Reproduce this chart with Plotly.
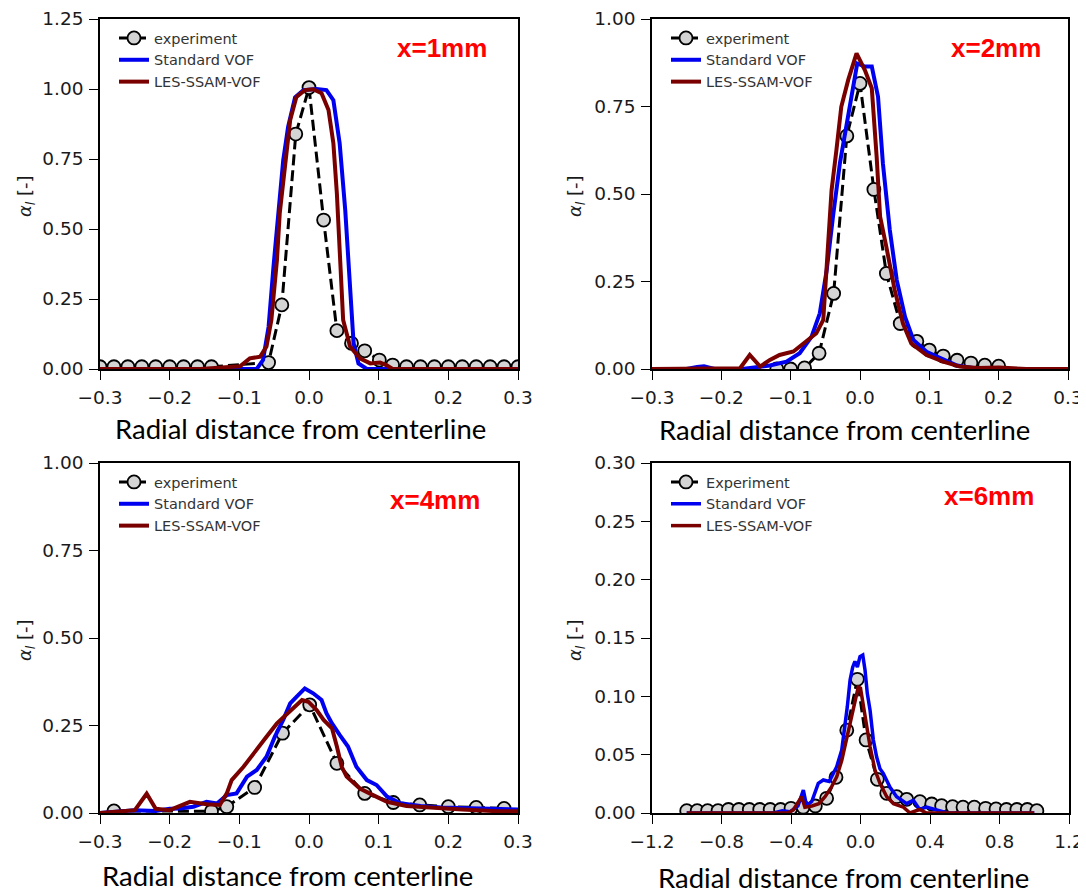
import plotly.graph_objects as go

W, H = 1086, 893          # size of the reference picture
OFF = 8                   # the page body adds an 8 px margin around the figure
FW, FH = W - OFF, H - OFF # figure size so that it ends exactly at the window edge

# ---------------- Panel 1 : x = 1 mm ----------------
p1_exp_x = [-0.30, -0.28, -0.26, -0.24, -0.22, -0.20, -0.18, -0.16, -0.14,
            -0.058, -0.039, -0.019, 0.0, 0.021, 0.040, 0.061, 0.080, 0.101, 0.120,
            0.14, 0.16, 0.18, 0.20, 0.22, 0.24, 0.26, 0.28, 0.30]
p1_exp_y = [0.008, 0.008, 0.008, 0.008, 0.008, 0.008, 0.008, 0.008, 0.008,
            0.023, 0.229, 0.839, 1.005, 0.532, 0.137, 0.092, 0.065, 0.032, 0.014,
            0.008, 0.008, 0.008, 0.008, 0.008, 0.008, 0.008, 0.008, 0.008]
p1_std_x = [-0.30, -0.12, -0.075, -0.066, -0.058, -0.051, -0.044, -0.037, -0.030, -0.020,
            -0.008, 0.011, 0.025, 0.035, 0.044, 0.052, 0.058, 0.064, 0.071, 0.083, 0.30]
p1_std_y = [0.0, 0.0, 0.0, 0.032, 0.151, 0.365, 0.568, 0.746, 0.865, 0.970,
            0.996, 1.0, 0.996, 0.96, 0.806, 0.568, 0.33, 0.092, 0.02, 0.0, 0.0]
p1_les_x = [-0.30, -0.156, -0.099, -0.085, -0.070, -0.061, -0.054, -0.046, -0.042, -0.034,
            -0.027, -0.018, -0.006, 0.006, 0.018, 0.028, 0.035, 0.040, 0.044, 0.049,
            0.059, 0.073, 0.088, 0.102, 0.111, 0.120, 0.30]
p1_les_y = [0.0, 0.0, 0.01, 0.038, 0.044, 0.08, 0.175, 0.389, 0.556, 0.746,
            0.889, 0.972, 0.996, 0.999, 0.985, 0.925, 0.806, 0.627, 0.389, 0.175,
            0.08, 0.038, 0.02, 0.023, 0.014, 0.0, 0.0]

# ---------------- Panel 2 : x = 2 mm ----------------
p2_exp_x = [-0.12, -0.10, -0.08, -0.059, -0.038, -0.019, 0.0, 0.02, 0.038, 0.058,
            0.082, 0.10, 0.12, 0.14, 0.16, 0.18, 0.20]
p2_exp_y = [0.0, 0.0, 0.003, 0.045, 0.216, 0.666, 0.816, 0.513, 0.273, 0.13,
            0.079, 0.054, 0.037, 0.025, 0.017, 0.011, 0.008]
p2_std_x = [-0.30, -0.25, -0.235, -0.225, -0.21, -0.17, -0.13, -0.106, -0.087, -0.070,
            -0.058, -0.048, -0.039, -0.029, -0.019, -0.010, -0.004, 0.007, 0.017, 0.026,
            0.033, 0.043, 0.053, 0.065, 0.077, 0.096, 0.115, 0.14, 0.163, 0.20, 0.30]
p2_std_y = [0.0, 0.0, 0.006, 0.008, 0.0, 0.0, 0.01, 0.021, 0.045, 0.092,
            0.159, 0.283, 0.435, 0.588, 0.702, 0.807, 0.873, 0.864, 0.864, 0.778,
            0.588, 0.397, 0.254, 0.149, 0.083, 0.049, 0.031, 0.01, 0.003, 0.0, 0.0]
p2_les_x = [-0.30, -0.20, -0.173, -0.159, -0.144, -0.13, -0.116, -0.096, -0.077, -0.063,
            -0.053, -0.046, -0.041, -0.034, -0.027, -0.017, -0.005, 0.007, 0.017, 0.024,
            0.029, 0.038, 0.05, 0.062, 0.074, 0.096, 0.12, 0.144, 0.17, 0.20, 0.22, 0.24, 0.30]
p2_les_y = [0.0, 0.0, 0.002, 0.04, 0.007, 0.026, 0.04, 0.05, 0.078, 0.102,
            0.14, 0.378, 0.511, 0.626, 0.749, 0.826, 0.902, 0.854, 0.802, 0.607,
            0.435, 0.349, 0.226, 0.13, 0.073, 0.04, 0.021, 0.007, 0.003, 0.004, 0.003, 0.0, 0.0]

# ---------------- Panel 3 : x = 4 mm ----------------
p3_exp_x = [-0.28, -0.14, -0.118, -0.078, -0.038, 0.001, 0.04, 0.08, 0.121, 0.159,
            0.20, 0.24, 0.28]
p3_exp_y = [0.006, 0.005, 0.018, 0.073, 0.228, 0.309, 0.142, 0.056, 0.03, 0.023,
            0.018, 0.016, 0.013]
p3_std_x = [-0.30, -0.28, -0.25, -0.22, -0.20, -0.185, -0.166, -0.147, -0.132, -0.118,
            -0.104, -0.089, -0.075, -0.061, -0.049, -0.037, -0.027, -0.018, -0.006, 0.006,
            0.018, 0.025, 0.033, 0.044, 0.056, 0.068, 0.083, 0.097, 0.112, 0.131,
            0.16, 0.19, 0.24, 0.30]
p3_std_y = [0.0, 0.003, 0.008, 0.006, 0.012, 0.013, 0.018, 0.032, 0.027, 0.051,
            0.056, 0.104, 0.123, 0.161, 0.218, 0.266, 0.313, 0.332, 0.356, 0.342,
            0.323, 0.285, 0.256, 0.223, 0.19, 0.132, 0.094, 0.08, 0.047, 0.028,
            0.02, 0.016, 0.012, 0.01]
p3_les_x = [-0.30, -0.27, -0.25, -0.233, -0.22, -0.20, -0.185, -0.171, -0.147, -0.128,
            -0.118, -0.111, -0.094, -0.080, -0.061, -0.046, -0.030, -0.010, -0.001, 0.011,
            0.021, 0.033, 0.040, 0.047, 0.054, 0.073, 0.092, 0.112, 0.14, 0.18,
            0.22, 0.27, 0.30]
p3_les_y = [0.0, 0.005, 0.008, 0.055, 0.012, 0.008, 0.02, 0.032, 0.025, 0.023,
            0.056, 0.094, 0.132, 0.17, 0.218, 0.256, 0.285, 0.323, 0.318, 0.294,
            0.266, 0.242, 0.19, 0.132, 0.104, 0.07, 0.051, 0.032, 0.02, 0.014,
            0.01, 0.005, 0.005]

# ---------------- Panel 4 : x = 6 mm ----------------
p4_exp_x = [-1.0, -0.94, -0.88, -0.82, -0.76, -0.70, -0.64, -0.58, -0.52, -0.46,
            -0.40, -0.33, -0.26, -0.195, -0.141, -0.079, -0.018, 0.032, 0.097, 0.151,
            0.208, 0.266, 0.342, 0.41, 0.467, 0.53, 0.59, 0.655, 0.72, 0.78,
            0.84, 0.90, 0.96, 1.015]
p4_exp_y = [0.002, 0.002, 0.002, 0.002, 0.003, 0.003, 0.003, 0.003, 0.003, 0.003,
            0.004, 0.005, 0.006, 0.0126, 0.0306, 0.071, 0.1146, 0.0626, 0.0289, 0.0169,
            0.014, 0.0117, 0.0097, 0.0077, 0.0063, 0.0054, 0.005, 0.005, 0.004, 0.0035,
            0.003, 0.003, 0.003, 0.002]
p4_std_x = [-1.0, -0.50, -0.45, -0.406, -0.36, -0.329, -0.31, -0.28, -0.243, -0.214,
            -0.18, -0.137, -0.108, -0.089, -0.076, -0.06, -0.045, -0.032, -0.018, -0.003,
            0.013, 0.026, 0.039, 0.055, 0.074, 0.093, 0.112, 0.131, 0.151, 0.17,
            0.208, 0.266, 0.304, 0.34, 0.38, 0.46, 0.50, 1.0]
p4_std_y = [0.0, 0.0, 0.002, 0.001, 0.006, 0.0197, 0.006, 0.01, 0.0254, 0.0283,
            0.027, 0.0397, 0.054, 0.074, 0.091, 0.114, 0.125, 0.13, 0.125, 0.134,
            0.1354, 0.1226, 0.1026, 0.088, 0.0626, 0.048, 0.038, 0.034, 0.028, 0.022,
            0.014, 0.008, 0.011, 0.003, 0.005, 0.002, 0.0, 0.0]
p4_les_x = [-1.0, -0.42, -0.387, -0.339, -0.32, -0.28, -0.24, -0.204, -0.166, -0.137,
            -0.108, -0.079, -0.051, -0.032, -0.013, 0.0, 0.016, 0.036, 0.055, 0.083,
            0.112, 0.151, 0.19, 0.247, 0.285, 0.34, 0.38, 0.42, 1.0]
p4_les_y = [0.0, 0.0, 0.0026, 0.014, 0.005, 0.006, 0.008, 0.014, 0.0226, 0.031,
            0.045, 0.065, 0.0826, 0.097, 0.108, 0.107, 0.091, 0.074, 0.057, 0.037,
            0.0254, 0.014, 0.008, 0.005, 0.0, 0.003, 0.0, 0.0, 0.0]

panel_labels = ["x=1mm", "x=2mm", "x=4mm", "x=6mm"]
exp_names = ["experiment", "experiment", "experiment", "Experiment"]
std_name = "Standard VOF"
les_name = "LES-SSAM-VOF"
x_title = "Radial distance from centerline"
y_title = "<i>α<sub>l</sub></i> [-]"

x_ranges = [[-0.3, 0.3], [-0.3, 0.3], [-0.3, 0.3], [-1.2, 1.2]]
x_dticks = [0.1, 0.1, 0.1, 0.4]
y_ranges = [[0, 1.25], [0, 1.0], [0, 1.0], [0, 0.30]]
y_dticks = [0.25, 0.25, 0.25, 0.05]

# ---------------- layout geometry (window pixels) ----------------
def px(x):
    return (x - OFF) / FW

def py(y):
    return 1 - (y - OFF) / FH

boxes = [  # left, right, top, bottom in window pixels
    (100, 518, 19, 369),
    (652, 1068, 19, 369),
    (100, 518, 463, 813),
    (652, 1069, 463, 813),
]

data = [
    (p1_exp_x, p1_exp_y, p1_std_x, p1_std_y, p1_les_x, p1_les_y),
    (p2_exp_x, p2_exp_y, p2_std_x, p2_std_y, p2_les_x, p2_les_y),
    (p3_exp_x, p3_exp_y, p3_std_x, p3_std_y, p3_les_x, p3_les_y),
    (p4_exp_x, p4_exp_y, p4_std_x, p4_std_y, p4_les_x, p4_les_y),
]

BLUE = "#0000f0"
DARKRED = "#7a0000"
TICKFONT = dict(family="DejaVu Sans", size=18.5, color="#1a1a1a")
LEGFONT = dict(family="DejaVu Sans", size=14.5, color="#333333")

fig = go.Figure()
layout = dict(
    width=FW, height=FH,
    margin=dict(l=0, r=0, t=0, b=0, pad=0, autoexpand=False),
    paper_bgcolor="white", plot_bgcolor="white",
    showlegend=True,
    annotations=[],
)

for i in range(4):
    n = "" if i == 0 else str(i + 1)
    xa, ya = "x" + n, "y" + n
    leg = "legend" if i == 0 else "legend" + str(i + 1)
    ex, ey, sx, sy, lx, ly = data[i]
    lw = 4 if i < 3 else 3.5
    fig.add_trace(go.Scatter(
        x=ex, y=ey, mode="lines+markers", name=exp_names[i],
        line=dict(color="black", width=3, dash="11px,5px"),
        marker=dict(symbol="circle", size=13, color="#d4d4d4",
                    line=dict(color="black", width=1.8)),
        xaxis=xa, yaxis=ya, legend=leg))
    fig.add_trace(go.Scatter(
        x=sx, y=sy, mode="lines", name=std_name,
        line=dict(color=BLUE, width=lw),
        xaxis=xa, yaxis=ya, legend=leg))
    fig.add_trace(go.Scatter(
        x=lx, y=ly, mode="lines", name=les_name,
        line=dict(color=DARKRED, width=lw),
        xaxis=xa, yaxis=ya, legend=leg))

    l, r, t, b = boxes[i]
    axcommon = dict(showline=True, mirror=True, linecolor="black", linewidth=1.5,
                    ticks="outside", ticklen=9, tickwidth=1.4, tickcolor="black",
                    showgrid=False, zeroline=False, tickfont=TICKFONT,
                    automargin=False)
    layout["xaxis" + n] = dict(domain=[px(l), px(r)], anchor=ya, range=x_ranges[i],
                               tick0=0, dtick=x_dticks[i], tickformat=".1f",
                               ticklabelstandoff=2, **axcommon)
    layout["yaxis" + n] = dict(domain=[py(b), py(t)], anchor=xa, range=y_ranges[i],
                               tick0=0, dtick=y_dticks[i], tickformat=".2f",
                               ticklabelstandoff=2, **axcommon)
    layout[leg] = dict(x=px(l + 14), y=py(t + 3), xanchor="left", yanchor="top",
                       bgcolor="rgba(255,255,255,0)", borderwidth=0, font=LEGFONT,
                       tracegroupgap=0)

# text annotations (window pixel positions)
label_pos = [(442, 48), (996, 48), (435, 500), (989, 496)]
xtitle_pos = [(300, 428), (844, 429), (287, 875), (843, 877)]
ytitle_pos = [(26, 196), (576, 196), (26, 640), (576, 640)]
for i in range(4):
    lxp, lyp = label_pos[i]
    layout["annotations"].append(dict(
        x=px(lxp), y=py(lyp), xref="paper", yref="paper", showarrow=False,
        text="<b>" + panel_labels[i] + "</b>", xanchor="center", yanchor="middle",
        font=dict(family="Liberation Sans", size=26, color="#ff0000")))
    txp, typ = xtitle_pos[i]
    layout["annotations"].append(dict(
        x=px(txp), y=py(typ), xref="paper", yref="paper", showarrow=False,
        text=x_title, xanchor="center", yanchor="middle",
        font=dict(family="Lato", size=27.5, color="black")))
    yxp, yyp = ytitle_pos[i]
    layout["annotations"].append(dict(
        x=px(yxp), y=py(yyp), xref="paper", yref="paper", showarrow=False,
        text=y_title, textangle=-90, xanchor="center", yanchor="middle",
        font=dict(family="DejaVu Sans", size=18, color="#1a1a1a")))

fig.update_layout(**layout)
fig.write_html("out.html")
